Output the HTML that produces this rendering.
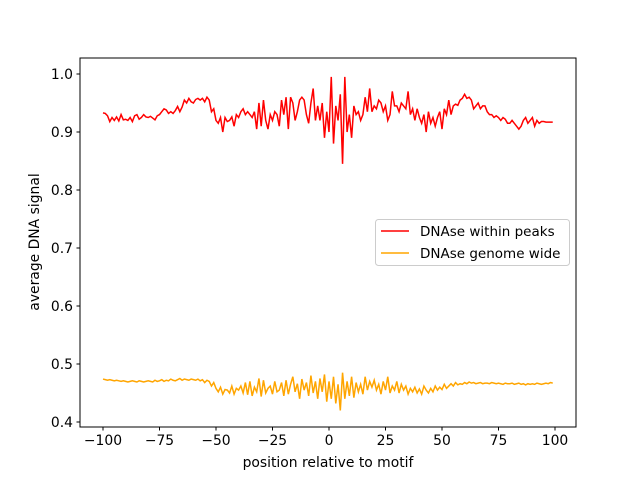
<!DOCTYPE html>
<html><head><meta charset="utf-8"><style>
body{margin:0;background:#fff;}
svg{display:block;font-family:"DejaVu Sans","Liberation Sans",sans-serif;}
</style></head><body>
<svg id="chart" width="640" height="480">
<rect x="0" y="0" width="640" height="480" fill="#fff"/>
<g id="plot"></g>
<rect x="80" y="58" width="496" height="369" fill="none" stroke="#000" stroke-width="1"/>
<g id="xticks"></g>
<g id="yticks"></g>
<text x="328" y="467" font-size="13.9" text-anchor="middle">position relative to motif</text>
<text transform="translate(39,242) rotate(-90)" font-size="13.9" text-anchor="middle">average DNA signal</text>
<g>
<rect x="375.5" y="219.5" width="194" height="46" rx="3" fill="#fff" fill-opacity="0.8" stroke="#ccc"/>
<g>
<line x1="381" y1="231" x2="409" y2="231" stroke="red" stroke-width="1.5"/>
<text x="420" y="236" font-size="13.5">DNAse within peaks</text></g>
<g>
<line x1="381" y1="253" x2="409" y2="253" stroke="orange" stroke-width="1.5"/>
<text x="420" y="258" font-size="13.5">DNAse genome wide</text></g>
</g>
</svg>
<script>
const xStart = -100;
const peaks = [
.933,.932,.928,.918,.925,.92,.926,.919,.93,.921,
.922,.92,.925,.918,.928,.93,.922,.925,.93,.926,
.925,.927,.924,.921,.928,.93,.935,.94,.938,.932,
.935,.932,.937,.944,.935,.943,.955,.95,.958,.952,
.95,.956,.958,.955,.958,.952,.96,.955,.935,.94,
.92,.915,.925,.90,.925,.918,.92,.926,.91,.93,
.925,.935,.94,.93,.935,.93,.925,.935,.905,.95,
.91,.955,.92,.905,.93,.92,.935,.93,.91,.955,
.93,.96,.905,.96,.95,.92,.935,.955,.96,.955,
.93,.915,.95,.975,.92,.945,.92,.95,.89,.935,
.90,.995,.88,.945,.92,.965,.845,.995,.90,.93,
.89,.945,.93,.935,.92,.93,.96,.935,.975,.935,
.945,.94,.955,.95,.935,.945,.92,.93,.97,.945,
.945,.935,.95,.945,.94,.97,.93,.94,.92,.94,
.925,.915,.93,.90,.935,.915,.925,.91,.925,.935,
.905,.94,.93,.955,.93,.945,.948,.946,.955,.958,
.965,.958,.96,.955,.94,.945,.95,.94,.945,.945,
.935,.93,.93,.925,.928,.925,.92,.925,.922,.915,
.915,.92,.915,.91,.905,.91,.92,.925,.915,.92,
.925,.91,.92,.915,.918,.918,.917,.917,.917,.917];
const genome = [
.474,.473,.472,.473,.472,.471,.472,.471,.470,.471,
.470,.469,.470,.471,.470,.469,.471,.470,.469,.470,
.471,.470,.469,.472,.470,.471,.473,.470,.472,.471,
.474,.472,.471,.473,.475,.472,.474,.473,.472,.474,
.473,.472,.474,.471,.473,.468,.472,.470,.462,.468,
.458,.452,.460,.448,.456,.455,.450,.462,.448,.458,
.455,.462,.450,.468,.447,.470,.445,.460,.452,.475,
.444,.472,.450,.458,.462,.448,.470,.452,.455,.468,
.445,.472,.448,.465,.478,.452,.466,.440,.474,.455,
.468,.445,.480,.450,.470,.440,.475,.452,.482,.435,
.470,.440,.478,.432,.465,.420,.485,.440,.470,.445,
.478,.442,.468,.452,.465,.448,.478,.455,.470,.460,
.472,.455,.465,.448,.470,.455,.478,.450,.462,.455,
.470,.450,.465,.455,.462,.448,.458,.452,.460,.450,
.457,.448,.462,.455,.450,.458,.452,.462,.455,.460,
.456,.465,.458,.462,.466,.462,.468,.464,.466,.465,
.468,.466,.469,.467,.468,.466,.467,.468,.466,.467,
.467,.466,.468,.467,.466,.467,.466,.465,.467,.466,
.466,.467,.465,.466,.467,.465,.466,.464,.466,.465,
.466,.465,.467,.466,.465,.466,.467,.466,.468,.467];
const xTickLabels = [-100,-75,-50,-25,0,25,50,75,100];
const yTickLabels = [0.4,0.5,0.6,0.7,0.8,0.9,1.0];

const NS = "http://www.w3.org/2000/svg";
function xs(v){ return 103 + (v + 100) * (452 / 200); }
function ys(v){ return 422 - (v - 0.4) * (348 / 0.6); }

function drawLine(vals, color, name){
  let d = "";
  vals.forEach((v,i)=>{ d += (i ? "L" : "M") + xs(xStart + i).toFixed(2) + "," + ys(v).toFixed(2); });
  const p = document.createElementNS(NS, "path");
  p.setAttribute("d", d);
  p.setAttribute("fill", "none");
  p.setAttribute("stroke", color);
  p.setAttribute("stroke-width", "1.5");
  
  
  document.getElementById("plot").appendChild(p);
}
drawLine(peaks, "red", "series-dnase-within-peaks");
drawLine(genome, "orange", "series-dnase-genome-wide");

const xg = document.getElementById("xticks");
xTickLabels.forEach(t=>{
  const x = xs(t);
  const l = document.createElementNS(NS, "line");
  l.setAttribute("x1", x); l.setAttribute("x2", x);
  l.setAttribute("y1", 427); l.setAttribute("y2", 430.5);
  l.setAttribute("stroke", "#000");
  
  
  xg.appendChild(l);
  const tx = document.createElementNS(NS, "text");
  tx.setAttribute("x", x); tx.setAttribute("y", 445);
  tx.setAttribute("font-size", "13.9"); tx.setAttribute("text-anchor", "middle");
  tx.textContent = String(t).replace("-", "\u2212");
  
  
  xg.appendChild(tx);
});
const yg = document.getElementById("yticks");
yTickLabels.forEach(t=>{
  const y = ys(t);
  const l = document.createElementNS(NS, "line");
  l.setAttribute("x1", 76.5); l.setAttribute("x2", 80);
  l.setAttribute("y1", y); l.setAttribute("y2", y);
  l.setAttribute("stroke", "#000");
  
  
  yg.appendChild(l);
  const tx = document.createElementNS(NS, "text");
  tx.setAttribute("x", 73); tx.setAttribute("y", y + 5);
  tx.setAttribute("font-size", "13.9"); tx.setAttribute("text-anchor", "end");
  tx.textContent = t.toFixed(1);
  
  
  yg.appendChild(tx);
});
</script>
</body></html>
